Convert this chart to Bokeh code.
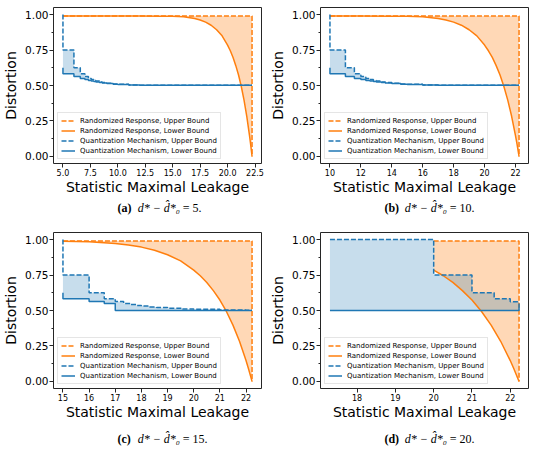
from bokeh.plotting import figure
from bokeh.models import (FixedTicker, NumeralTickFormatter, Legend, LegendItem,
                          Range1d)
from bokeh.core.properties import value
from bokeh.layouts import column, row
from bokeh.embed import file_html
from bokeh.resources import INLINE

ORANGE = "#ff7f0e"
BLUE = "#1f77b4"

# ---------------- data ----------------
X_MAX = 22.23
PANEL_START = [5.0, 10.0, 15.0, 17.29]
PANEL_OFFSET = [5.0, 10.0, 15.0, 20.0]
PANEL_TAGS = ["(a)", "(b)", "(c)", "(d)"]
PANEL_DIFF = ["5.", "10.", "15.", "20."]
X_TICKS = [
    [5.0, 7.5, 10.0, 12.5, 15.0, 17.5, 20.0, 22.5],
    [10, 12, 14, 16, 18, 20, 22],
    [15, 16, 17, 18, 19, 20, 21, 22],
    [18, 19, 20, 21, 22],
]
X_FORMATS = ["0.0", "0", "0", "0"]
Y_TICKS = [0.0, 0.25, 0.5, 0.75, 1.0]
Y_MINOR = [0.125, 0.375, 0.625, 0.875]

# Randomized response
RR_UPPER = 0.99
RR_X = [5, 10, 12, 14, 15, 16, 17, 17.5, 18, 18.5, 19, 19.5, 20, 20.25, 20.5,
        20.75, 21, 21.25, 21.5, 21.75, 22, 22.1, 22.23]
RR_LOWER = [0.99, 0.99, 0.99, 0.988, 0.988, 0.985, 0.973, 0.962, 0.947, 0.925,
            0.893, 0.85, 0.785, 0.745, 0.698, 0.64, 0.574, 0.493, 0.397, 0.283,
            0.147, 0.086, 0.0]
RR_START = [5.0, 10.0, 15.0, 20.0]

# Quantization mechanism (steps, relative to panel offset)
QM_UPPER_FIRST = 1.0
QM_LOWER_FIRST = 0.625
QM_DX = [0, 1, 1.58, 2, 2.32, 2.58, 2.81, 3, 3.32, 3.58, 4, 4.58, 5, 6, 7]
QM_UPPER = [0.75, 0.625, 0.583, 0.563, 0.55, 0.542, 0.536, 0.531, 0.525,
            0.521, 0.516, 0.51, 0.508, 0.504, 0.502]
QM_LOWER = [0.583, 0.563, 0.55, 0.542, 0.536, 0.531, 0.528, 0.525, 0.521,
            0.518, 0.514, 0.509, 0.507, 0.504, 0.502]
# panel (c) lower bound
QM_C_DX = [0, 1, 1.58, 2]
QM_C_LOWER = [0.583, 0.563, 0.55, 0.5]
# panel (d)
QM_D_X = [17.29, 20, 21, 21.58, 22]
QM_D_UPPER = [1.0, 0.75, 0.625, 0.583, 0.5625]
QM_D_LOWER = 0.5
QM_D_LOWER_END = 0.55

LEGEND_LABELS = ["Randomized Response, Upper Bound",
                 "Randomized Response, Lower Bound",
                 "Quantization Mechanism, Upper Bound",
                 "Quantization Mechanism, Lower Bound"]

FIG_W = 267
LEFT = 52


def step_path(xb, ys, x_end, first=None):
    px, py = [], []
    if first is not None:
        px.append(xb[0])
        py.append(first)
    for i, (x, y) in enumerate(zip(xb, ys)):
        nx = xb[i + 1] if i + 1 < len(xb) else x_end
        px += [x, nx]
        py += [y, y]
    return px, py


def make_panel(i, top):
    xs = PANEL_START[i]
    span = X_MAX - xs
    p = figure(width=FIG_W, height=top + 158 + 32,
               x_range=Range1d(xs - 0.05 * span, X_MAX + 0.05 * span),
               y_range=Range1d(-0.05, 1.05),
               output_backend="svg", toolbar_location=None,
               min_border_left=LEFT, min_border_right=6,
               min_border_top=top, min_border_bottom=32)
    p.grid.visible = False
    p.background_fill_color = "white"
    p.border_fill_color = "white"
    p.outline_line_color = "#262626"
    p.outline_line_width = 1

    o = PANEL_OFFSET[i]
    rx = [x for x in RR_X if x >= RR_START[i]]
    ry = RR_LOWER[len(RR_X) - len(rx):]
    if i < 3:
        ux, uy = step_path([o + d for d in QM_DX], QM_UPPER, X_MAX, QM_UPPER_FIRST)
        if i == 2:
            lx, ly = step_path([o + d for d in QM_C_DX], QM_C_LOWER, X_MAX, QM_LOWER_FIRST)
        else:
            lx, ly = step_path([o + d for d in QM_DX], QM_LOWER, X_MAX, QM_LOWER_FIRST)
    else:
        ux, uy = step_path(QM_D_X, QM_D_UPPER, X_MAX)
        lx = [QM_D_X[0], X_MAX, X_MAX]
        ly = [QM_D_LOWER, QM_D_LOWER, QM_D_LOWER_END]

    p.varea(x=rx, y1=ry, y2=[RR_UPPER] * len(rx), fill_color=ORANGE, fill_alpha=0.3)
    p.patch(ux + lx[::-1], uy + ly[::-1], fill_color=BLUE, fill_alpha=0.25, line_color=None)

    r1 = p.line([rx[0], X_MAX, X_MAX], [RR_UPPER, RR_UPPER, 0.0], line_color=ORANGE,
                line_width=1.5, line_dash="5 2")
    r2 = p.line(rx, ry, line_color=ORANGE, line_width=1.5)
    r3 = p.line(ux, uy, line_color=BLUE, line_width=1.5, line_dash="5 2")
    r4 = p.line(lx, ly, line_color=BLUE, line_width=1.5)

    legend = Legend(items=[LegendItem(label=LEGEND_LABELS[k], renderers=[r])
                           for k, r in enumerate([r1, r2, r3, r4])],
                    location="bottom_left")
    legend.label_text_font = "DejaVu Sans"
    legend.label_text_font_size = "7px"
    legend.label_text_color = "#000000"
    legend.glyph_width = 14
    legend.glyph_height = 9
    legend.label_height = 9
    legend.label_standoff = 5
    legend.spacing = 1
    legend.padding = 3
    legend.margin = 4
    legend.border_line_color = "#cccccc"
    legend.border_line_width = 1
    legend.background_fill_alpha = 0.8
    p.add_layout(legend)

    p.xaxis.ticker = FixedTicker(ticks=X_TICKS[i])
    p.xaxis.formatter = NumeralTickFormatter(format=X_FORMATS[i])
    p.yaxis.ticker = FixedTicker(ticks=Y_TICKS, minor_ticks=Y_MINOR)
    p.yaxis.formatter = NumeralTickFormatter(format="0.00")
    for ax in (p.xaxis, p.yaxis):
        ax.axis_line_color = None
        ax.major_tick_out = 4
        ax.major_tick_in = 0
        ax.minor_tick_out = 2
        ax.minor_tick_in = 0
        ax.major_tick_line_color = "#262626"
        ax.minor_tick_line_color = "#262626"
        ax.major_label_text_font = "DejaVu Sans"
        ax.major_label_text_color = "#000000"
        ax.axis_label_text_font = "DejaVu Sans"
        ax.axis_label_text_font_style = "normal"
        ax.axis_label_text_font_size = "14px"
        ax.axis_label_text_color = "#000000"
    p.xaxis.minor_tick_line_color = None
    p.xaxis.major_label_text_font_size = "8px"
    p.yaxis.major_label_text_font_size = "10.5px"
    p.xaxis.major_label_standoff = 1
    p.yaxis.major_label_standoff = 1
    p.xaxis.axis_label_standoff = 0
    p.yaxis.axis_label_standoff = 3
    p.xaxis.axis_label = "Statistic Maximal Leakage"
    p.yaxis.axis_label = "Distortion"
    return p


def make_caption(i, height, cy):
    c = figure(width=FIG_W, height=height, x_range=Range1d(0, FIG_W),
               y_range=Range1d(0, height), output_backend="svg",
               toolbar_location=None, x_axis_type=None, y_axis_type=None,
               min_border=0)
    c.grid.visible = False
    c.outline_line_color = None
    c.background_fill_color = "white"
    c.border_fill_color = "white"
    c.text(x=[LEFT + 30], y=[cy], text=[PANEL_TAGS[i]],
           text_font=value("Liberation Serif"), text_font_style="bold",
           text_font_size="12px", text_baseline="middle", text_color="#000000")
    c.text(x=[LEFT + 56], y=[cy], text=["d* \u2212 d\u0302*\u2080"],
           text_font=value("Liberation Serif"), text_font_style="italic",
           text_font_size="12px", text_baseline="middle", text_color="#000000")
    c.text(x=[LEFT + 114], y=[cy], text=["= " + PANEL_DIFF[i]],
           text_font=value("Liberation Serif"),
           text_font_size="12px", text_baseline="middle", text_color="#000000")
    return c


pa = make_panel(0, 7)
pb = make_panel(1, 7)
pc = make_panel(2, 6)
pd = make_panel(3, 6)
ca = make_caption(0, 29, 19)
cb = make_caption(1, 29, 19)
cc = make_caption(2, 31, 15)
cd = make_caption(3, 31, 15)

layout = column(row(column(pa, ca), column(pb, cb)),
                row(column(pc, cc), column(pd, cd)))
open("out.html", "w").write(file_html(layout, INLINE))
